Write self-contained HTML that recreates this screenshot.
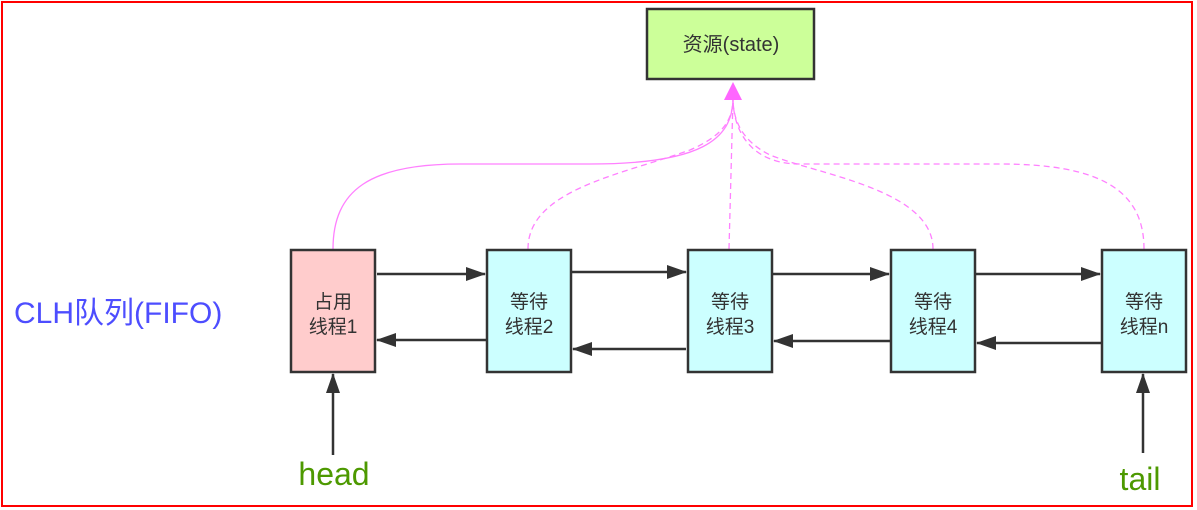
<!DOCTYPE html>
<html><head><meta charset="utf-8"><style>
html,body{margin:0;padding:0;background:#fff;}
svg{display:block;}
text{font-family:"Liberation Sans","Noto Sans CJK SC",sans-serif;}
</style></head><body>
<svg width="1197" height="510" viewBox="0 0 1197 510" xmlns="http://www.w3.org/2000/svg">
<defs>
<marker id="ab" viewBox="0 0 20 14" markerWidth="20" markerHeight="14" refX="19" refY="7" orient="auto" markerUnits="userSpaceOnUse">
<path d="M0,0 L20,7 L0,14 Z" fill="#333"/></marker>
</defs>
<rect x="2" y="2" width="1190" height="504" fill="#fff" stroke="#f00" stroke-width="2"/>
<g fill="none" stroke="#ff80ff" stroke-width="1.3">
<path d="M333,249 C333,190 370,164 460,164 L590,164 C700,164 733,140 733,98"/>
<path d="M528,249 C528,190 620,175 690,150 C725,135 733,118 733,98" stroke-dasharray="6,4"/>
<path d="M729,249 L733,98" stroke-dasharray="6,4"/>
<path d="M933,249 C933,190 820,175 770,155 C740,140 733,118 733,98" stroke-dasharray="6,4"/>
<path d="M1144,249 C1144,190 1100,164 1000,164 L800,164 C750,164 733,130 733,98" stroke-dasharray="6,4"/>
</g>
<path d="M733,82 L742,100 L724,100 Z" fill="#ff66ff"/>
<rect x="647" y="9" width="167" height="70" fill="#ccff99" stroke="#333" stroke-width="2.5"/>
<text x="731" y="51" font-size="20" fill="#333" text-anchor="middle">资源(state)</text>
<g stroke="#333" stroke-width="2.5">
<rect x="291" y="250" width="84" height="122" fill="#ffcccc"/>
<rect x="487" y="250" width="84" height="122" fill="#ccffff"/>
<rect x="688" y="250" width="84" height="122" fill="#ccffff"/>
<rect x="891" y="250" width="84" height="122" fill="#ccffff"/>
<rect x="1102" y="250" width="84" height="122" fill="#ccffff"/>
</g>
<g font-size="19" fill="#333" text-anchor="middle">
<text x="333" y="308">占用</text><text x="333" y="333">线程1</text>
<text x="529" y="308">等待</text><text x="529" y="333">线程2</text>
<text x="730" y="308">等待</text><text x="730" y="333">线程3</text>
<text x="933" y="308">等待</text><text x="933" y="333">线程4</text>
<text x="1144" y="308">等待</text><text x="1144" y="333">线程n</text>
</g>
<g stroke="#333" stroke-width="2.5" marker-end="url(#ab)">
<line x1="377" y1="274" x2="485" y2="274"/>
<line x1="572" y1="272" x2="686" y2="272"/>
<line x1="773" y1="274" x2="889" y2="274"/>
<line x1="976" y1="274" x2="1100" y2="274"/>
<line x1="486" y1="340" x2="377" y2="340"/>
<line x1="686" y1="349" x2="573" y2="349"/>
<line x1="890" y1="341" x2="774" y2="341"/>
<line x1="1101" y1="343" x2="977" y2="343"/>
<line x1="333" y1="455" x2="333" y2="374"/>
<line x1="1143" y1="453" x2="1143" y2="374"/>
</g>
<text x="14" y="323" font-size="30" fill="#4d4dff">CLH队列(FIFO)</text>
<text x="334" y="485" font-size="32" fill="#4d9900" text-anchor="middle">head</text>
<text x="1140" y="490" font-size="32" fill="#4d9900" text-anchor="middle">tail</text>
</svg>
</body></html>
